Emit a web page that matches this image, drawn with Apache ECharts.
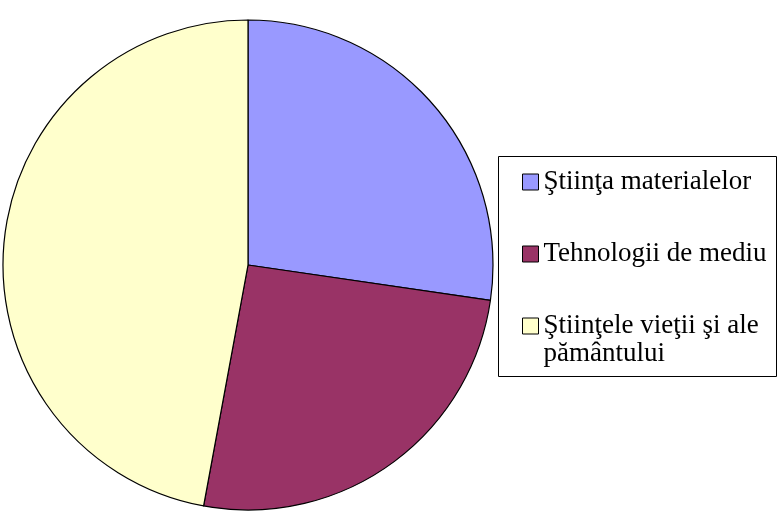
<!DOCTYPE html>
<html>
<head>
<meta charset="utf-8">
<script src="https://cdn.jsdelivr.net/npm/echarts@6/dist/echarts.min.js"></script>
<style>
  html, body { margin: 0; padding: 0; background: #fff; }
  #chart { width: 780px; height: 518px; }
</style>
</head>
<body>
<div id="chart"></div>
<script>
// domains and their shares (%)
const categories = ['Ştiinţa materialelor', 'Tehnologii de mediu', 'Ştiinţele vieţii şi ale pământului'];
const values = [27.3, 25.6, 47.1];
const colors = ['#9999FF', '#993366', '#FFFFCC'];

const chart = echarts.init(document.getElementById('chart'));

const legendText = {
  fontFamily: '"Liberation Serif", "Times New Roman", serif',
  fontSize: 27,
  color: '#000',
  lineHeight: 28
};

chart.setOption({
  animation: false,
  graphic: [{
    type: 'rect',
    shape: { x: 498.5, y: 156.5, width: 278, height: 220 },
    style: { fill: '#fff', stroke: '#000', lineWidth: 1 },
    z: -1
  }],
  legend: [
    {
      data: categories.slice(0, 2),
      orient: 'vertical',
      left: 522,
      top: 168,
      padding: 0,
      itemGap: 44,
      itemWidth: 16,
      itemHeight: 16,
      icon: 'rect',
      selectedMode: false,
      itemStyle: { borderColor: '#000', borderWidth: 1 },
      textStyle: legendText
    },
    {
      // second legend so the wrapped label keeps its box on the first line
      data: categories.slice(2),
      orient: 'vertical',
      left: 522,
      top: 284,
      padding: 0,
      itemWidth: 16,
      itemHeight: 16,
      icon: 'rect',
      selectedMode: false,
      formatter: name => ' \n' + name.replace(' ale ', ' ale\n'),
      itemStyle: { borderColor: '#000', borderWidth: 1 },
      textStyle: legendText
    }
  ],
  series: [{
    type: 'pie',
    center: [248, 265],
    radius: 245,
    startAngle: 90,
    clockwise: true,
    label: { show: false },
    labelLine: { show: false },
    emphasis: { disabled: true },
    itemStyle: { borderColor: '#000', borderWidth: 1.2 },
    data: categories.map((name, i) => ({
      name: name,
      value: values[i],
      itemStyle: { color: colors[i] }
    }))
  }]
});
</script>
</body>
</html>
